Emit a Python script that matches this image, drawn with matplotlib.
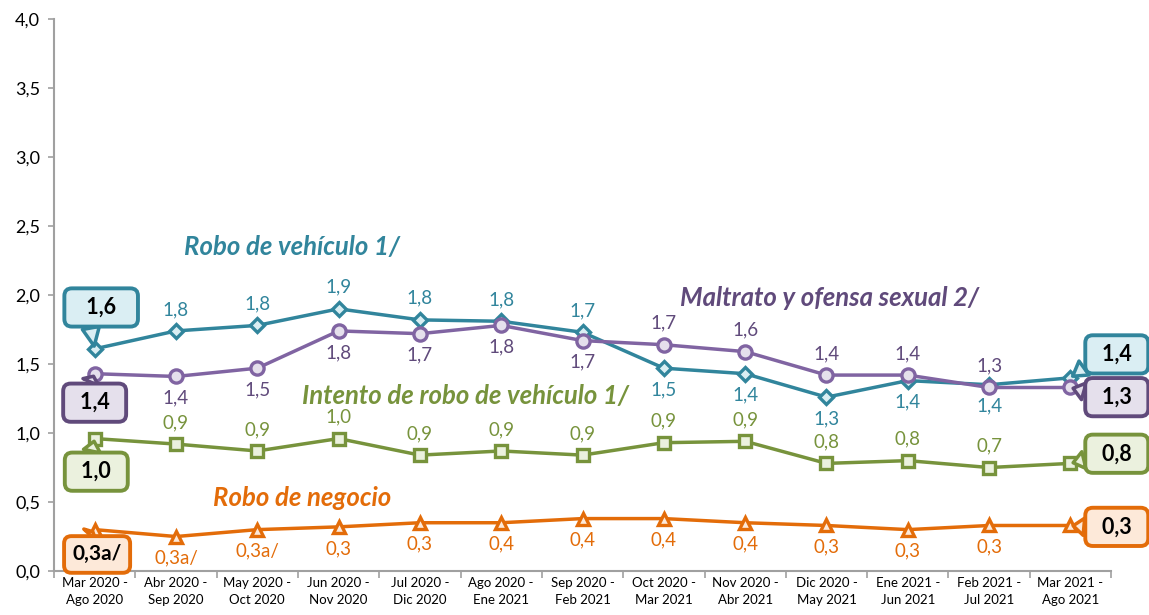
import matplotlib
matplotlib.use("Agg")
import matplotlib.pyplot as plt

plt.rcParams['font.family'] = ['Lato', 'DejaVu Sans']

categories = ["Mar 2020 -\nAgo 2020", "Abr 2020 -\nSep 2020", "May 2020 -\nOct 2020",
              "Jun 2020 -\nNov 2020", "Jul 2020 -\nDic 2020", "Ago 2020 -\nEne 2021",
              "Sep 2020 -\nFeb 2021", "Oct 2020 -\nMar 2021", "Nov 2020 -\nAbr 2021",
              "Dic 2020 -\nMay 2021", "Ene 2021 -\nJun 2021", "Feb 2021 -\nJul 2021",
              "Mar 2021 -\nAgo 2021"]

robo_vehiculo = [1.61, 1.74, 1.78, 1.90, 1.82, 1.81, 1.73, 1.47, 1.43, 1.26, 1.38, 1.35, 1.40]
robo_vehiculo_lbl = ["1,6", "1,8", "1,8", "1,9", "1,8", "1,8", "1,7", "1,5", "1,4", "1,3", "1,4", "1,4", "1,4"]

maltrato = [1.43, 1.41, 1.47, 1.74, 1.72, 1.78, 1.67, 1.64, 1.59, 1.42, 1.42, 1.33, 1.33]
maltrato_lbl = ["1,4", "1,4", "1,5", "1,8", "1,7", "1,8", "1,7", "1,7", "1,6", "1,4", "1,4", "1,3", "1,3"]

intento = [0.96, 0.92, 0.87, 0.96, 0.84, 0.87, 0.84, 0.93, 0.94, 0.78, 0.80, 0.75, 0.78]
intento_lbl = ["1,0", "0,9", "0,9", "1,0", "0,9", "0,9", "0,9", "0,9", "0,9", "0,8", "0,8", "0,7", "0,8"]

negocio = [0.30, 0.25, 0.30, 0.32, 0.35, 0.35, 0.38, 0.38, 0.35, 0.33, 0.30, 0.33, 0.33]
negocio_lbl = ["0,3a/", "0,3a/", "0,3a/", "0,3", "0,3", "0,4", "0,4", "0,4", "0,4", "0,3", "0,3", "0,3", "0,3"]

yticks = [0.0, 0.5, 1.0, 1.5, 2.0, 2.5, 3.0, 3.5, 4.0]
ytick_labels = ["0,0", "0,5", "1,0", "1,5", "2,0", "2,5", "3,0", "3,5", "4,0"]

TEAL, TEAL_F, TEAL_T = "#31859C", "#DAEEF3", "#31859C"
PURP, PURP_F, PURP_T = "#8064A2", "#E5E0EC", "#604A7B"
GREEN, GREEN_F, GREEN_T = "#77933C", "#EBF1DE", "#77933C"
ORANGE, ORANGE_F, ORANGE_T = "#E36C09", "#FDE9D9", "#E36C09"

fig = plt.figure(figsize=(11.49, 6.15), dpi=100)
ax = fig.add_axes([0.047, 0.0715, 0.92, 0.8975])
x = list(range(len(categories)))

series = [
    (robo_vehiculo, robo_vehiculo_lbl, TEAL, TEAL_F, TEAL_T, 'D', 7.5),
    (maltrato, maltrato_lbl, PURP, PURP_F, PURP_T, 'o', 9.5),
    (intento, intento_lbl, GREEN, GREEN_F, GREEN_T, 's', 8.5),
    (negocio, negocio_lbl, ORANGE, ORANGE_F, ORANGE_T, '^', 8.5),
]
for vals, lbls, c, f, t, m, ms in series:
    ax.plot(x, vals, color=c, lw=2.5, marker=m, ms=ms, mfc=f, mec=c, mew=2.4, zorder=3)

# data label positions: +1 above, -1 below, 0 none (callout)
teal_pos = [0, 1, 1, 1, 1, 1, 1, -1, -1, -1, -1, -1, 0]
purp_pos = [0, -1, -1, -1, -1, -1, -1, 1, 1, 1, 1, 1, 0]
green_pos = [0, 1, 1, 1, 1, 1, 1, 1, 1, 1, 1, 1, 0]
orange_pos = [0, -1, -1, -1, -1, -1, -1, -1, -1, -1, -1, -1, 0]

for (vals, lbls, c, f, t, m, ms), pos in zip(series, [teal_pos, purp_pos, green_pos, orange_pos]):
    for i, (v, l, p) in enumerate(zip(vals, lbls, pos)):
        if p == 0:
            continue
        ax.annotate(l, (i, v), xytext=(0, 15.5 * p), textcoords='offset points',
                    ha='center', va='center', fontsize=13.5, color=t)

# callouts (wedge: wide at the box edge, tip at the point)
def callout(text, xy, xytext, ec, fc, relpos, fs=15.5):
    ax.annotate(text, xy=xy, xytext=xytext, textcoords='data', ha='center', va='center',
                fontsize=fs, fontweight='bold', color='black', annotation_clip=False,
                bbox=dict(boxstyle='round,pad=0.4,rounding_size=0.35', fc=fc, ec=ec, lw=2.8),
                arrowprops=dict(arrowstyle='wedge,tail_width=0.8,shrink_factor=0.5',
                                fc=fc, ec=ec, lw=2.5, shrinkA=0, shrinkB=2, relpos=relpos),
                zorder=5)

callout("\u2009  1,6  \u2009", (0, robo_vehiculo[0]), (0.08, 1.91), TEAL, TEAL_F, (0.28, 0.08))
callout("\u2009 1,4 \u2009", (0, maltrato[0]), (0.0, 1.22), PURP_T, PURP_F, (0.3, 0.92))
callout("\u2009 1,0 \u2009", (0, intento[0]), (0.02, 0.72), GREEN, GREEN_F, (0.35, 0.92))
callout("0,3a/", (0, negocio[0]), (0.03, 0.12), ORANGE, ORANGE_F, (0.14, 0.92), fs=15)
callout("\u2009 1,4 \u2009", (12, robo_vehiculo[12]), (12.57, 1.57), TEAL, TEAL_F, (0.07, 0.3))
callout("\u2009 1,3 \u2009", (12, maltrato[12]), (12.57, 1.26), PURP_T, PURP_F, (0.07, 0.6))
callout("\u2009 0,8 \u2009", (12, intento[12]), (12.57, 0.85), GREEN, GREEN_F, (0.07, 0.35))
callout("\u2009 0,3 \u2009", (12, negocio[12]), (12.57, 0.32), ORANGE, ORANGE_F, (0.07, 0.45))

# series names
ax.text(1.1, 2.35, "Robo de vehículo 1/", color=TEAL, fontsize=18.5, fontweight='bold',
        style='italic', ha='left', va='center')
ax.text(7.2, 1.98, "Maltrato y ofensa sexual 2/", color=PURP_T, fontsize=18.5, fontweight='bold',
        style='italic', ha='left', va='center')
ax.text(2.55, 1.27, "Intento de robo de vehículo 1/", color=GREEN, fontsize=18.5, fontweight='bold',
        style='italic', ha='left', va='center')
ax.text(1.45, 0.53, "Robo de negocio", color=ORANGE, fontsize=18.5, fontweight='bold',
        style='italic', ha='left', va='center')

ax.set_xlim(-0.5, 12.5)
ax.set_ylim(0, 4)
ax.set_yticks(yticks)
ax.set_yticklabels(ytick_labels, fontsize=13)
ax.set_xticks(x)
ax.set_xticklabels(categories, fontsize=9.5, linespacing=1.5)
ax.tick_params(axis='x', which='major', length=0, pad=4)
ax.set_xticks([i + 0.5 for i in range(-1, 13)], minor=True)
ax.tick_params(axis='x', which='minor', length=5, color='#A0A0A0', width=1.2)
ax.tick_params(axis='y', length=4, color='#A0A0A0', width=1.2, pad=6)
for s in ['top', 'right']:
    ax.spines[s].set_visible(False)
for s in ['left', 'bottom']:
    ax.spines[s].set_color('#A0A0A0')
    ax.spines[s].set_linewidth(1.5)

fig.savefig("out.png", dpi=100)
